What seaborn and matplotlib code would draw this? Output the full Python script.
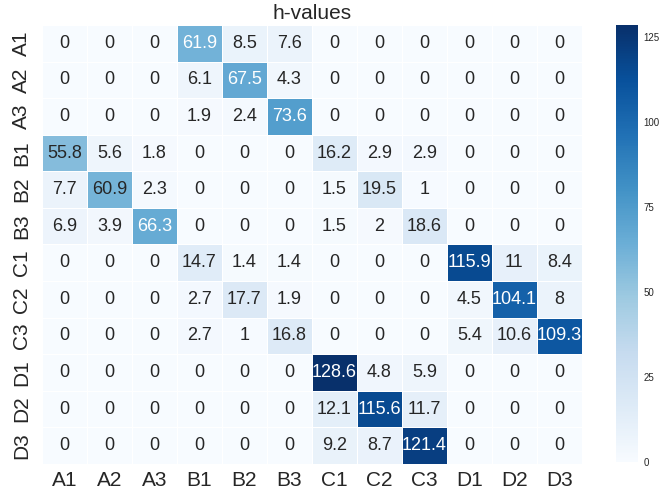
import numpy as np
import pandas as pd
import matplotlib
matplotlib.use("Agg")
import matplotlib.pyplot as plt
import seaborn as sns

labels = ["A1", "A2", "A3", "B1", "B2", "B3", "C1", "C2", "C3", "D1", "D2", "D3"]

row_A1 = [0, 0, 0, 61.9, 8.5, 7.6, 0, 0, 0, 0, 0, 0]
row_A2 = [0, 0, 0, 6.1, 67.5, 4.3, 0, 0, 0, 0, 0, 0]
row_A3 = [0, 0, 0, 1.9, 2.4, 73.6, 0, 0, 0, 0, 0, 0]
row_B1 = [55.8, 5.6, 1.8, 0, 0, 0, 16.2, 2.9, 2.9, 0, 0, 0]
row_B2 = [7.7, 60.9, 2.3, 0, 0, 0, 1.5, 19.5, 1, 0, 0, 0]
row_B3 = [6.9, 3.9, 66.3, 0, 0, 0, 1.5, 2, 18.6, 0, 0, 0]
row_C1 = [0, 0, 0, 14.7, 1.4, 1.4, 0, 0, 0, 115.9, 11, 8.4]
row_C2 = [0, 0, 0, 2.7, 17.7, 1.9, 0, 0, 0, 4.5, 104.1, 8]
row_C3 = [0, 0, 0, 2.7, 1, 16.8, 0, 0, 0, 5.4, 10.6, 109.3]
row_D1 = [0, 0, 0, 0, 0, 0, 128.6, 4.8, 5.9, 0, 0, 0]
row_D2 = [0, 0, 0, 0, 0, 0, 12.1, 115.6, 11.7, 0, 0, 0]
row_D3 = [0, 0, 0, 0, 0, 0, 9.2, 8.7, 121.4, 0, 0, 0]

rows = [row_A1, row_A2, row_A3, row_B1, row_B2, row_B3,
        row_C1, row_C2, row_C3, row_D1, row_D2, row_D3]
df = pd.DataFrame(rows, index=labels, columns=labels)

sns.set_theme(style="white")
plt.rcParams["font.family"] = ["Liberation Sans", "DejaVu Sans"]

fig = plt.figure(figsize=(6.6, 4.95), dpi=100)
ax = fig.add_axes([0.0636, 0.0626, 0.818, 0.887])
cax = fig.add_axes([0.933, 0.067, 0.034, 0.882])

sns.heatmap(df, ax=ax, cbar_ax=cax, cmap="Blues", annot=True, fmt="g",
            linewidths=0.5, linecolor="white",
            annot_kws={"fontsize": 13})

ax.set_title("h-values", fontsize=15, pad=4)
ax.tick_params(axis="x", length=0, labelsize=15, pad=5)
ax.tick_params(axis="y", length=0, labelsize=15, pad=8)
ax.set_yticklabels(labels, rotation=90, va="center")
ax.set_xticklabels(labels, rotation=0)

cax.tick_params(length=0, labelsize=7, pad=4)
cax.yaxis.set_major_locator(matplotlib.ticker.MultipleLocator(25))
for s in cax.spines.values():
    s.set_visible(False)

fig.savefig("out.png", dpi=100)
